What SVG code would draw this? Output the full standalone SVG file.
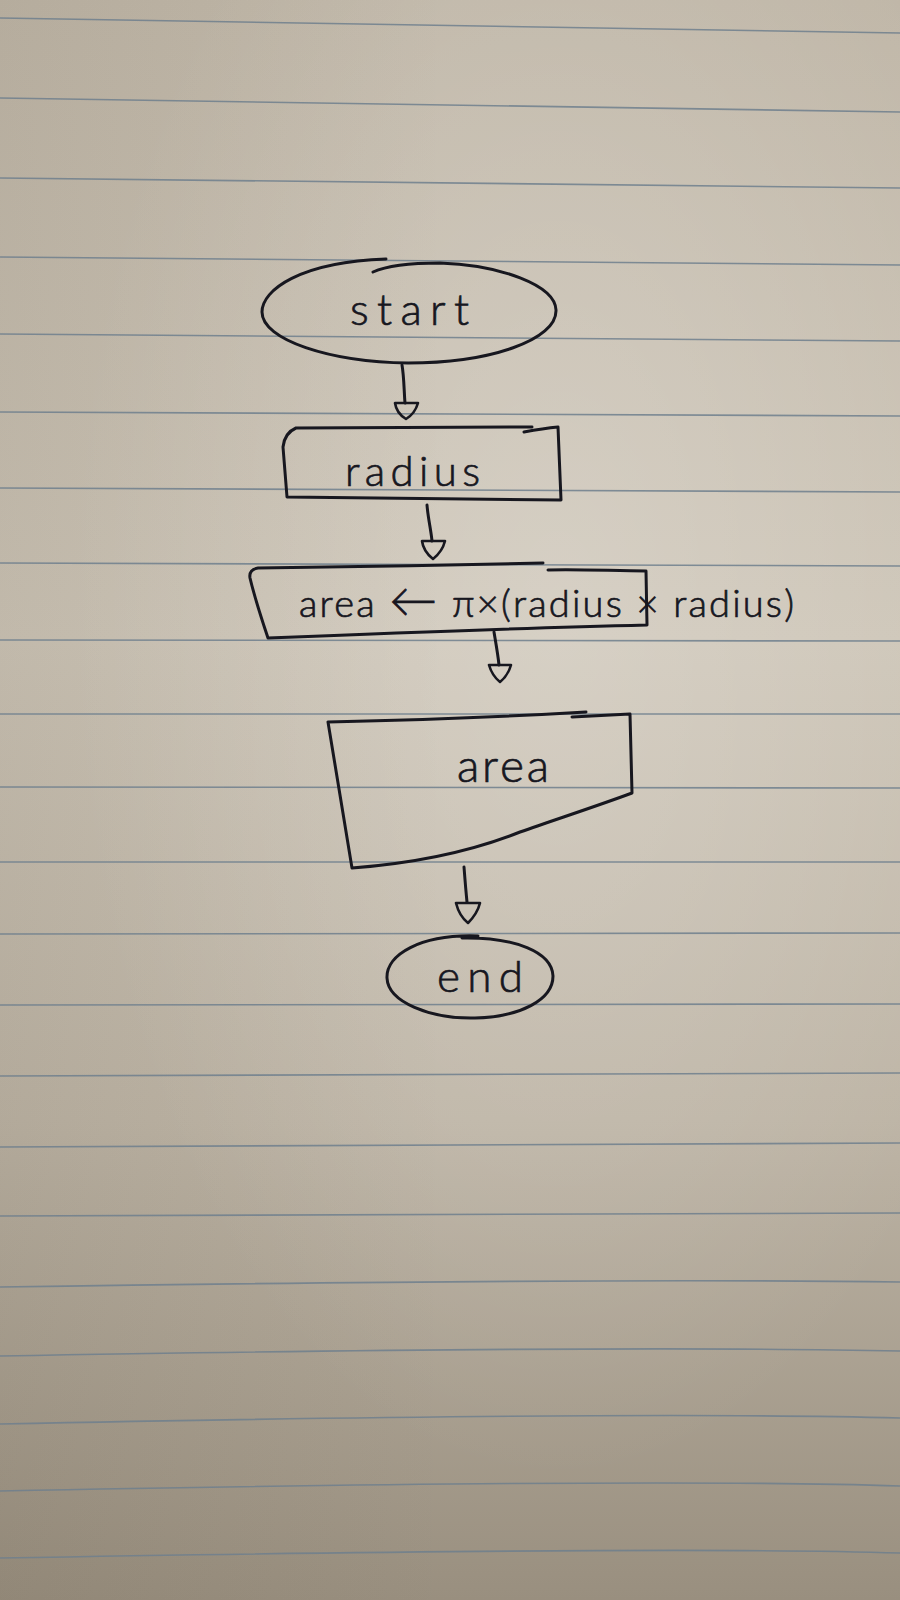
<svg xmlns="http://www.w3.org/2000/svg" width="900" height="1600" viewBox="0 0 900 1600">
  <defs>
    <linearGradient id="paperV" x1="0" y1="0" x2="0" y2="1">
      <stop offset="0" stop-color="#c0b7a8"/>
      <stop offset="0.4" stop-color="#cdc5b7"/>
      <stop offset="0.7" stop-color="#bdb4a5"/>
      <stop offset="1" stop-color="#998f7f"/>
    </linearGradient>
    <radialGradient id="light" cx="0.62" cy="0.38" r="0.55">
      <stop offset="0" stop-color="#ffffff" stop-opacity="0.2"/>
      <stop offset="1" stop-color="#ffffff" stop-opacity="0"/>
    </radialGradient>
    <linearGradient id="shadeL" x1="0" y1="0" x2="1" y2="0">
      <stop offset="0" stop-color="#3a3020" stop-opacity="0.08"/>
      <stop offset="0.5" stop-color="#3a3020" stop-opacity="0"/>
    </linearGradient>
  </defs>
  <style>
    .rule { fill: none; stroke: #6f7f8d; stroke-width: 1.6; stroke-opacity: 0.85; }
    .pen { fill: none; stroke: #17171f; stroke-width: 3; stroke-linecap: round; stroke-linejoin: round; }
    .head { fill: none; stroke: #17171f; stroke-width: 2.6; stroke-linejoin: round; }
    .hand { font-family: "Lato", "Open Sans", "Liberation Sans", sans-serif; font-weight: 300; fill: #17171f; stroke: #17171f; stroke-width: 0.7; }
  </style>

  <g id="paper">
    <rect x="0" y="0" width="900" height="1600" fill="url(#paperV)"/>
    <rect x="0" y="0" width="900" height="1600" fill="url(#light)"/>
    <rect x="0" y="0" width="900" height="1600" fill="url(#shadeL)"/>
    <g id="ruled-lines">
      <path class="rule" d="M0 18 L900 33"/>
      <path class="rule" d="M0 98 L900 112"/>
      <path class="rule" d="M0 178 L900 188"/>
      <path class="rule" d="M0 257 L900 265"/>
      <path class="rule" d="M0 334 L900 341"/>
      <path class="rule" d="M0 412 L900 416"/>
      <path class="rule" d="M0 488 L900 492"/>
      <path class="rule" d="M0 563 L900 566"/>
      <path class="rule" d="M0 640 L900 641"/>
      <path class="rule" d="M0 714 L900 714"/>
      <path class="rule" d="M0 787 L900 788"/>
      <path class="rule" d="M0 862 L900 862"/>
      <path class="rule" d="M0 934 L900 933"/>
      <path class="rule" d="M0 1005 L900 1004"/>
      <path class="rule" d="M0 1076 L900 1073"/>
      <path class="rule" d="M0 1147 L900 1143"/>
      <path class="rule" d="M0 1216 L900 1213"/>
      <path class="rule" d="M0 1287 Q600 1278 900 1282"/>
      <path class="rule" d="M0 1356 Q620 1345 900 1351"/>
      <path class="rule" d="M0 1424 Q640 1411 900 1418"/>
      <path class="rule" d="M0 1491 Q660 1478 900 1486"/>
      <path class="rule" d="M0 1558 Q680 1546 900 1553"/>
    </g>
  </g>

  <g id="connectors">
    <g id="c1">
      <path class="pen" d="M402 365 C404 376 404 391 405 403"/>
      <path class="head" d="M395 403 L418 403 C416 410 411 416 406 419 C401 416 396 410 395 403 Z"/>
    </g>
    <g id="c2">
      <path class="pen" d="M427 505 C428 518 431 530 432 541"/>
      <path class="head" d="M422 541 L445 541 C443 549 438 555 433 559 C428 555 423 549 422 541 Z"/>
    </g>
    <g id="c3">
      <path class="pen" d="M494 632 C496 644 498 655 499 665"/>
      <path class="head" d="M489 665 L511 665 C509 672 505 678 500 682 C495 678 491 672 489 665 Z"/>
    </g>
    <g id="c4">
      <path class="pen" d="M464 867 C465 880 466 892 467 902"/>
      <path class="head" d="M456 903 L480 903 C478 911 473 918 468 923 C463 919 458 911 456 903 Z"/>
    </g>
  </g>

  <g id="node-start">
    <path class="pen" d="M386 259 C300 262 262 290 262 312 C262 340 330 362 408 363 C490 363 557 340 556 310 C555 285 500 265 440 263 C410 263 386 266 373 272"/>
    <text class="hand" x="350" y="325" font-size="44" textLength="119" lengthAdjust="spacing">start</text>
  </g>

  <g id="node-input-radius">
    <path class="pen" d="M296 428 L532 427 M524 432 C535 430 548 428 558 427 L561 500 L287 497 L283 447 C284 438 289 431 296 428"/>
    <text class="hand" x="345" y="486" font-size="42" textLength="135" lengthAdjust="spacing">radius</text>
  </g>

  <g id="node-process">
    <path class="pen" d="M258 568 C350 567 450 565 543 563 M548 570 C580 569 615 571 646 571 L647 625 C520 628 390 633 268 638 C262 620 254 595 250 578 C249 572 252 569 258 568"/>
    <text class="hand" x="299" y="617" font-size="38" textLength="495" lengthAdjust="spacing">area <tspan font-size="48">←</tspan> π×(radius × radius)</text>
  </g>

  <g id="node-output">
    <path class="pen" d="M328 722 C420 720 520 716 586 712 M572 717 L630 714 L632 793 C600 805 560 818 520 832 C480 848 430 862 352 868 L328 722"/>
    <text class="hand" x="457" y="782" font-size="46" textLength="92" lengthAdjust="spacing">area</text>
  </g>

  <g id="node-end">
    <path class="pen" d="M478 936 C420 934 386 955 387 978 C388 1002 430 1019 475 1018 C520 1017 553 1000 553 976 C552 952 515 937 462 938"/>
    <text class="hand" x="437" y="992" font-size="44" textLength="86" lengthAdjust="spacing">end</text>
  </g>
</svg>
